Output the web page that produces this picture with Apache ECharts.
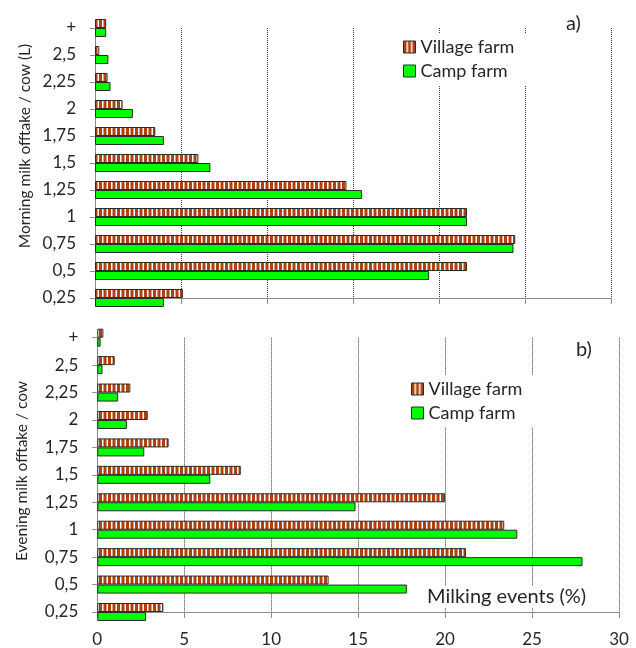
<!DOCTYPE html>
<html>
<head>
<meta charset="utf-8">
<script src="https://cdn.jsdelivr.net/npm/echarts@6/dist/echarts.min.js"></script>
<style>
  html, body { margin: 0; padding: 0; background: #fff; }
  #chart { width: 636px; height: 648px; }
</style>
</head>
<body>
<div id="chart"></div>
<script>
// Milk offtake classes (L per cow), listed bottom to top
const categories = ['0,25', '0,5', '0,75', '1', '1,25', '1,5', '1,75', '2', '2,25', '2,5', '+'];

// a) Morning milkings, share of milking events (%)
const morningVillage = [5.1, 21.6, 24.4, 21.6, 14.6, 6.0, 3.5, 1.6, 0.73, 0.25, 0.65];
const morningCamp    = [4.0, 19.4, 24.3, 21.6, 15.5, 6.7, 4.0, 2.2, 0.9, 0.78, 0.65];

// b) Evening milkings, share of milking events (%)
const eveningVillage = [3.8, 13.3, 21.2, 23.4, 20.0, 8.25, 4.1, 2.9, 1.9, 1.0, 0.35];
const eveningCamp    = [2.8, 17.8, 27.9, 24.15, 14.85, 6.5, 2.7, 1.7, 1.2, 0.3, 0.19];

const xTicks = { min: 0, max: 30, interval: 5 };

const FONT = 'Lato';
const TEXT = '#262626';
const AXIS = '#8c8c8c';
const GREEN = '#00ff00';
const BROWN = '#b0400e';
const EDGE = '#2b2b2b';

// vertical brown / white stripe fill for the village bars
function stripePattern() {
  const c = document.createElement('canvas');
  c.width = 9; c.height = 4;
  const g = c.getContext('2d');
  g.fillStyle = '#ffffff';
  g.fillRect(0, 0, 9, 4);
  g.fillStyle = BROWN;
  g.fillRect(0, 0, 3, 4);
  g.fillRect(4.5, 0, 3, 4);
  return { image: c, repeat: 'repeat' };
}
const stripes = stripePattern();

function valueAxis(gridIndex, showLabels) {
  return {
    type: 'value', gridIndex,
    min: xTicks.min, max: xTicks.max, interval: xTicks.interval,
    axisLine: { show: true, lineStyle: { color: AXIS, width: 1 } },
    axisTick: { show: true, length: 6, lineStyle: { color: AXIS } },
    axisLabel: { show: showLabels, fontFamily: FONT, fontSize: 17, color: TEXT, margin: 19 },
    splitLine: { show: true, showMinLine: false, lineStyle: { color: '#3a3a3a', type: [1, 1], width: 1 } }
  };
}

function categoryAxis(gridIndex) {
  return {
    type: 'category', gridIndex, data: categories, boundaryGap: false,
    axisLine: { show: true, lineStyle: { color: AXIS, width: 1 } },
    axisTick: { show: true, length: 5, lineStyle: { color: AXIS } },
    axisLabel: { fontFamily: FONT, fontSize: 17, color: TEXT, margin: 19 },
    splitLine: { show: false }
  };
}

function barSeries(name, data, idx, fill) {
  return {
    name, type: 'bar', data,
    xAxisIndex: idx, yAxisIndex: idx,
    barWidth: 9, barGap: '0%', clip: false,
    itemStyle: { color: fill, borderColor: EDGE, borderWidth: 1 },
    emphasis: { disabled: true },
    animation: false
  };
}

function legendAt(left, top) {
  return {
    orient: 'vertical', left, top,
    data: ['Village farm', 'Camp farm'],
    icon: 'rect', itemWidth: 12, itemHeight: 12, itemGap: 6, itemTextGap: 5,
    backgroundColor: '#ffffff', padding: [5, 12, 5, 8],
    selectedMode: false,
    textStyle: { fontFamily: FONT, fontSize: 18, color: TEXT },
    itemStyle: { borderColor: EDGE, borderWidth: 1 }
  };
}

const chart = echarts.init(document.getElementById('chart'), null, { renderer: 'canvas' });
chart.setOption({
  animation: false,
  backgroundColor: '#ffffff',
  grid: [
    { left: 95, top: 28, width: 516.7, height: 270 },
    { left: 97.3, top: 337.7, width: 521.7, height: 277.3 }
  ],
  xAxis: [valueAxis(0, false), valueAxis(1, true)],
  yAxis: [categoryAxis(0), categoryAxis(1)],
  legend: [legendAt(395, 33), legendAt(403, 375)],
  title: [
    { text: 'a)', left: 566, top: 14, textStyle: { fontFamily: FONT, fontSize: 20, fontWeight: 'normal', color: TEXT }, padding: 0 },
    { text: 'b)', left: 576, top: 340, textStyle: { fontFamily: FONT, fontSize: 20, fontWeight: 'normal', color: TEXT }, padding: 0 },
    { text: 'Milking events (%)', left: 425, top: 586, backgroundColor: '#ffffff', padding: [1, 2],
      textStyle: { fontFamily: FONT, fontSize: 20, fontWeight: 'normal', color: TEXT } }
  ],
  graphic: [
    { type: 'text', x: 25, y: 146, rotation: Math.PI / 2,
      style: { text: 'Morning milk offtake / cow (L)', font: '15.5px Lato', fill: TEXT, align: 'center', verticalAlign: 'middle' } },
    { type: 'text', x: 22, y: 471, rotation: Math.PI / 2,
      style: { text: 'Evening milk offtake / cow', font: '15.5px Lato', fill: TEXT, align: 'center', verticalAlign: 'middle' } }
  ],
  series: [
    barSeries('Village farm', morningVillage, 0, stripes),
    barSeries('Camp farm', morningCamp, 0, GREEN),
    barSeries('Village farm', eveningVillage, 1, stripes),
    barSeries('Camp farm', eveningCamp, 1, GREEN)
  ]
});
</script>
</body>
</html>
